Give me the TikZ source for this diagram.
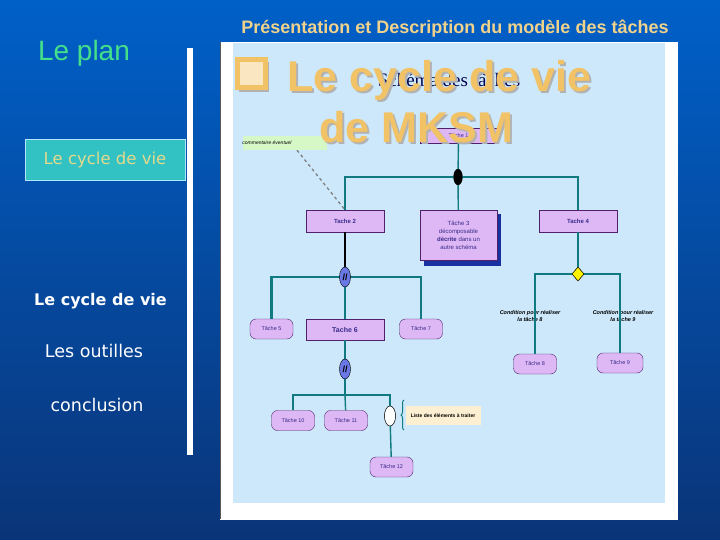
\documentclass[tikz,border=0pt]{standalone}
\usepackage{fontspec}
\setmainfont{Liberation Sans}
\newfontfamily\verd{DejaVu Sans}
\newfontfamily\romfont{Liberation Serif}
\usepackage{tikz}
\usetikzlibrary{positioning,shapes.geometric,decorations.pathreplacing}

\definecolor{slidetop}{HTML}{0060C8}
\definecolor{slidebot}{HTML}{0A3478}
\definecolor{titletan}{HTML}{F0D28C}
\definecolor{bigtan}{HTML}{F2C266}
\definecolor{plangreen}{HTML}{44E08A}
\definecolor{menuteal}{HTML}{33C2C4}
\definecolor{menutext}{HTML}{E2D98A}
\definecolor{paleblue}{HTML}{CCE8FA}
\definecolor{lineteal}{HTML}{107A80}
\definecolor{taskfill}{HTML}{DDB8F5}
\definecolor{taskdraw}{HTML}{50206A}
\definecolor{tasktext}{HTML}{3A2A8A}
\definecolor{shadowblue}{HTML}{1830A0}
\definecolor{notegreen}{HTML}{D6F8C6}
\definecolor{notebeige}{HTML}{FDF0D2}
\definecolor{markblue}{HTML}{6A78E6}

\begin{document}
\begin{tikzpicture}[x=1pt,y=-1pt,
  tache/.style={rectangle,draw=taskdraw,fill=taskfill,minimum width=78pt,minimum height=22pt,
    inner sep=0pt,text=tasktext,font=\bfseries\fontsize{6}{7}\selectfont},
  tacher/.style={tache,rounded corners=6pt,minimum width=43pt,minimum height=20pt,
    font=\fontsize{5.5}{6}\selectfont},
  lien/.style={draw=lineteal,line width=1.4pt},
  barre/.style={draw=lineteal,line width=2.6pt},
  marq/.style={ellipse,draw=black,fill=markblue,minimum width=11pt,minimum height=20pt,inner sep=0pt,
    font=\bfseries\fontsize{9}{9}\selectfont},
  menu/.style={text=white,font=\verd\fontsize{17.5}{18}\selectfont},
  cond/.style={align=center,font=\itshape\bfseries\fontsize{5.5}{6.5}\selectfont}]
\useasboundingbox (0,0) rectangle (720,540);
% slide background
\shade[top color=slidetop,bottom color=slidebot] (0,0) rectangle (720,540);
\fill[white] (187,48) rectangle (193,455);
\draw[white,fill=white] (220,42) rectangle (677,519);
\draw[gray!70!black,line width=1pt] (220.5,42) -- (220.5,519);
\fill[paleblue] (233,43) rectangle (665,503);

% left menu
\node[text=plangreen,font=\fontsize{28}{28}\selectfont] (plan) at (84,53) {Le plan};
\node[draw=cyan!30,fill=menuteal,minimum width=160pt,minimum height=41pt,inner sep=0pt] (cyclebox) at (105,160) {};
\node[text=menutext,font=\verd\fontsize{16.5}{18}\selectfont] (cycle1) at (cyclebox) {Le cycle de vie};
\node[menu,font=\verd\bfseries\fontsize{16}{18}\selectfont] (cycle2) at (100.5,301) {Le cycle de vie};
\node[menu] (outils) at (94,351) {Les outilles};
\node[menu] (concl) at (97,405) {conclusion};

% title
\node[text=titletan,font=\bfseries\fontsize{18}{18}\selectfont] (titre) at (455,29) {Présentation et Description du modèle des tâches};

% task diagram
\node[text=blue!30!black,font=\romfont\fontsize{19}{19}\selectfont] (schema) at (449,80) {Schéma des tâches};
\node[tache,minimum width=77pt,minimum height=15pt,font=\fontsize{5.5}{6}\selectfont] (t1) at (458.5,135.5) {Tâche 1};
\node[ellipse,fill=black,minimum width=9pt,minimum height=16pt,inner sep=0pt] (b1) at (458,177) {};
\node[tache] (t2) at (345,221) {Tache 2};
\fill[shadowblue] (424,214) rectangle (501,266);
\node[tache,minimum width=77pt,minimum height=50pt,align=center,font=\fontsize{6}{8}\selectfont] (t3) at (458.5,235)
  {Tâche 3\\décomposable\\\textbf{décrite} dans un\\autre schéma};
\node[tache] (t4) at (578,221) {Tache 4};
\node[fill=notegreen,minimum width=84pt,minimum height=14pt,inner sep=0pt,
  font=\itshape\fontsize{5}{6}\selectfont] (comm) at (285,143) {\hspace{-36pt}commentaire éventuel};
\node[tacher] (t5) at (271.5,329) {Tâche 5};
\node[tache,minimum height=21pt,font=\bfseries\fontsize{7}{8}\selectfont] (t6) at (345,329.5) {Tache 6};
\node[tacher] (t7) at (421,329) {Tâche 7};
\node[diamond,draw=black,fill=yellow,minimum width=12pt,minimum height=14pt,inner sep=0pt] (dia) at (578,274) {};
\node[tacher] (t8) at (535,364) {Tâche 8};
\node[tacher,minimum width=46pt] (t9) at (620,363) {Tâche 9};
\node[cond] (c8) at (530,316) {Condition pour réaliser\\la tâche 8};
\node[cond] (c9) at (623,316) {Condition pour réaliser\\la tâche 9};
\node[tacher] (t10) at (293,420.5) {Tâche 10};
\node[tacher] (t11) at (346,420.5) {Tâche 11};
\node[ellipse,draw=black,fill=white,minimum width=11pt,minimum height=20pt,inner sep=0pt] (vide) at (390,416) {};
\node[tacher] (t12) at (391.5,467) {Tâche 12};
\node[fill=notebeige,minimum width=75pt,minimum height=19pt,inner sep=0pt,
  font=\bfseries\fontsize{5}{6}\selectfont] (liste) at (443,415.5) {Liste des éléments à traiter};
\coordinate (j3) at (345,395);

% links
\path[lien] (t1) -- (b1) -- (t3);
\path[barre] (t2.north) |- (b1.center) -| (t4.north);
\draw[black,line width=1.4pt] (t2) -- (345,277);
\path[barre] (t5.north) |- (345,277) -| (t7.north);
\path[lien] (345,277) -- (t6);
\path[lien] (t6) -- (j3);
\path[barre] (t10.north) |- (j3) -| (390,406);
\path[lien] (j3) -- (t11);
\path[lien] (vide) -- (t12);
\path[lien] (t4) -- (dia);
\path[barre] (t8.north) |- (dia.center) -| (t9.north);
\draw[gray,dashed,line width=1.3pt] ([xshift=12pt]comm.south) -- (t2.north);
\draw[lineteal,line width=1pt,decorate,decoration={brace,amplitude=3pt}] (404,430) -- (404,400);
% markers redrawn on top of the bars
\node[ellipse,fill=black,minimum width=9pt,minimum height=16pt,inner sep=0pt] at (b1) {};
\node[diamond,draw=black,fill=yellow,minimum width=12pt,minimum height=14pt,inner sep=0pt] at (dia) {};
\node[ellipse,draw=black,fill=white,minimum width=11pt,minimum height=20pt,inner sep=0pt] at (vide) {};
\node[marq] (m1) at (345,277) {//};
\node[marq] (m2) at (345,369) {//};

% overlay heading
\fill[gray!60] (239,62) rectangle (269,92);
\draw[bigtan,line width=5pt,fill=bigtan!40] (237,60) rectangle (265,88);
\node[anchor=base west,text=gray!60,font=\bfseries\fontsize{43}{43}\selectfont] at (286,94) {Le cycle de vie};
\node[anchor=base west,text=bigtan,font=\bfseries\fontsize{43}{43}\selectfont] (cycle3) at (284,92) {Le cycle de vie};
\node[anchor=base west,text=gray!60,font=\bfseries\fontsize{43}{43}\selectfont] at (318,145) {de MKSM};
\node[anchor=base west,text=bigtan,font=\bfseries\fontsize{43}{43}\selectfont] (mksm) at (316,143) {de MKSM};
\end{tikzpicture}
\end{document}
